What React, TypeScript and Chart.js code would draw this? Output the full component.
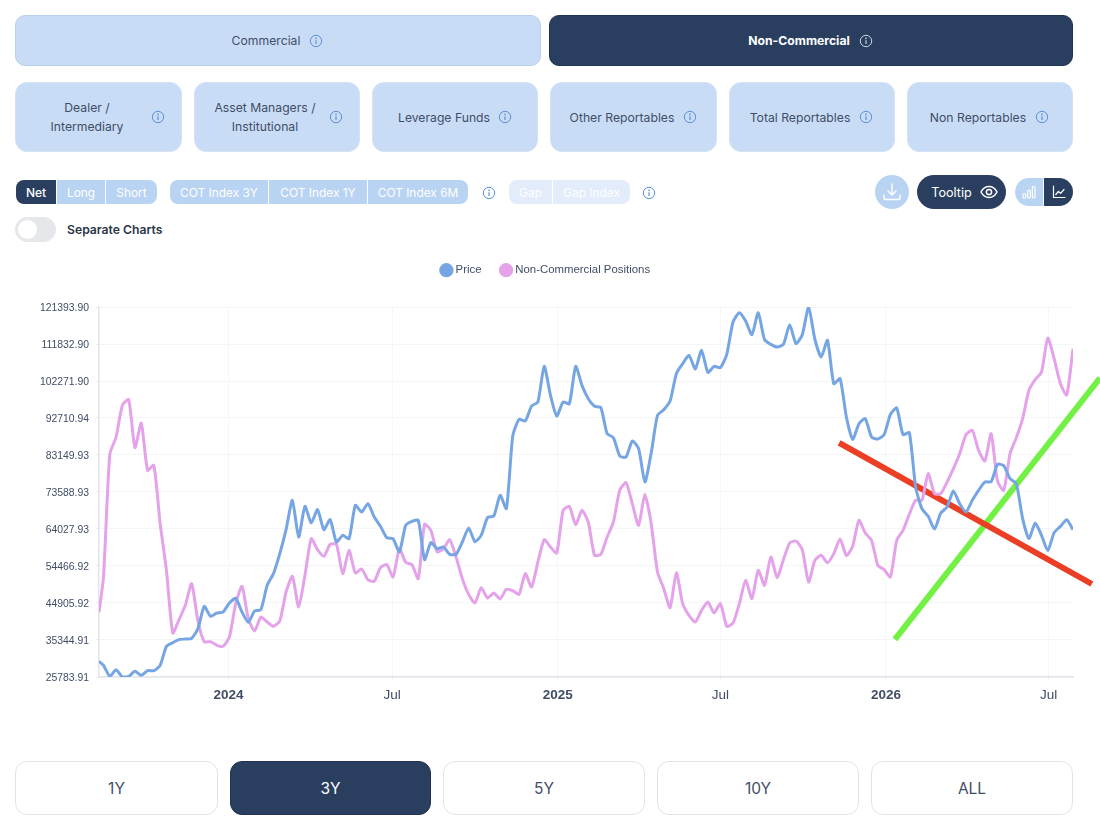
import React, { useEffect, useRef } from "react";
import { Chart, registerables } from "chart.js";

Chart.register(...registerables);

const dates = [
  "2023-08-10","2023-08-15","2023-08-22","2023-08-29","2023-09-05","2023-09-12","2023-09-19","2023-09-26",
  "2023-10-03","2023-10-10","2023-10-17","2023-10-24","2023-10-31","2023-11-07","2023-11-14","2023-11-21","2023-11-28",
  "2023-12-05","2023-12-12","2023-12-19","2023-12-26",
  "2024-01-02","2024-01-09","2024-01-16","2024-01-23","2024-01-30","2024-02-06","2024-02-13","2024-02-20","2024-02-27",
  "2024-03-05","2024-03-12","2024-03-19","2024-03-26","2024-04-02","2024-04-09","2024-04-16","2024-04-23","2024-04-30",
  "2024-05-07","2024-05-14","2024-05-21","2024-05-28","2024-06-04","2024-06-11","2024-06-18","2024-06-25",
  "2024-07-02","2024-07-09","2024-07-16","2024-07-23","2024-07-30","2024-08-06","2024-08-13","2024-08-20","2024-08-27",
  "2024-09-03","2024-09-10","2024-09-17","2024-09-24","2024-10-01","2024-10-08","2024-10-15","2024-10-22","2024-10-29",
  "2024-11-05","2024-11-12","2024-11-19","2024-11-26","2024-12-03","2024-12-10","2024-12-17","2024-12-24","2024-12-31",
  "2025-01-07","2025-01-14","2025-01-21","2025-01-28","2025-02-04","2025-02-11","2025-02-18","2025-02-25",
  "2025-03-04","2025-03-11","2025-03-18","2025-03-25","2025-04-01","2025-04-08","2025-04-15","2025-04-22","2025-04-29",
  "2025-05-06","2025-05-13","2025-05-20","2025-05-27","2025-06-03","2025-06-10","2025-06-17","2025-06-24",
  "2025-07-01","2025-07-08","2025-07-15","2025-07-22","2025-07-29","2025-08-05","2025-08-12","2025-08-19","2025-08-26",
  "2025-09-02","2025-09-09","2025-09-16","2025-09-23","2025-09-30","2025-10-07","2025-10-14","2025-10-21","2025-10-28",
  "2025-11-04","2025-11-11","2025-11-18","2025-11-25","2025-12-02","2025-12-09","2025-12-16","2025-12-23","2025-12-30",
  "2026-01-06","2026-01-13","2026-01-20","2026-01-27","2026-02-03","2026-02-10","2026-02-17","2026-02-24",
  "2026-03-03","2026-03-10","2026-03-17","2026-03-24","2026-03-31","2026-04-07","2026-04-14","2026-04-21","2026-04-28",
  "2026-05-05","2026-05-12","2026-05-19","2026-05-26","2026-06-02","2026-06-09","2026-06-16","2026-06-23","2026-06-30",
  "2026-07-07","2026-07-14","2026-07-21","2026-07-28",
];

const priceValues = [
  29832,28799,25956,27679,25784,25956,27248,26215,27421,27421,28799,33708,34656,35431,35603,35776,38274,44045,41461,42322,
  42580,44906,46112,42580,39910,42839,43183,49471,52486,57654,63856,71436,61961,69885,65578,69024,63856,66440,60669,62391,
  61530,70144,68421,70574,67129,64717,61788,61530,58085,64975,66009,66267,56104,60496,58946,59377,57482,57482,60669,64286,
  60755,62391,66957,67387,72728,69282,87973,92366,91936,95812,96845,106062,98568,93228,96845,96415,106062,101152,97707,95726,
  95381,88663,87629,82892,82633,86768,84786,76173,83667,93400,94864,97104,104167,106751,108904,105373,110196,104511,106062,105717,
  109163,117518,119930,117776,114245,119930,112953,111747,111058,111747,116829,111919,114245,121394,113039,108474,112780,101583,102875,92969,
  87198,91247,92539,87801,87284,88404,93658,95295,88404,88921,74881,69282,67301,64028,68162,69713,73847,70574,68421,71436,
  74020,76173,76259,80738,80394,77034,75742,66698,61530,65578,62391,58429,63080,64717,66440,63856,
];

const positionValues = [
  42494,51625,83322,87801,95984,97448,85045,91419,79188,80480,65406,53347,37154,40599,44303,49902,40255,34914,34914,33967,
  33708,36120,44734,49213,40858,37671,41288,39996,38877,40255,47748,51797,43872,52055,61530,58688,56965,60066,60066,52486,
  58515,52658,53692,50935,50505,54036,54811,51625,58946,55414,54811,51194,65234,63683,58085,58946,61272,56793,51194,47145,
  44906,48868,46198,47490,45940,48438,48093,47145,52486,49040,55501,61272,59377,57826,68852,69885,65148,68852,65837,57223,
  57482,61961,65837,74020,76001,70574,64975,72986,65406,52917,48610,43700,52744,44734,41719,39996,43011,45164,42322,44734,
  38877,39738,44734,50763,46026,53347,49471,56793,51452,56104,60410,60927,58688,50332,55931,57223,55328,57654,61444,57137,
  59549,66267,62994,61099,54639,53519,51625,61099,63683,67818,71436,71436,78326,73158,73158,76173,79618,83494,88404,89524,
  84356,81599,88663,76431,74020,83494,87629,92539,99860,102616,104598,113383,108043,101583,98654,110627,
];

const redLineDates = ["2025-11-10", "2026-08-18"];
const redLineValues = [86300, 49815];
const greenLineDates = ["2026-01-11", "2026-08-27"];
const greenLineValues = [35500, 103046];

const yTicks = [121393.9,111832.9,102271.9,92710.94,83149.93,73588.93,64027.93,54466.92,44905.92,35344.91,25783.91];
const xTickDates = ["2024-01-01","2024-07-01","2025-01-01","2025-07-01","2026-01-01","2026-07-01"];
const xTickLabels = ["2024","Jul","2025","Jul","2026","Jul"];

const dark = "#2a3f5f";
const light = "#c9dcf6";
const pill = "#b9d3f3";
const textCol = "#3f4d66";
const UI = "Inter, 'Noto Sans', sans-serif";
const CHART_FONT = "'Liberation Sans', Arial, sans-serif";

const ms = (d: string) => Date.parse(d + "T00:00:00Z");

function InfoIcon({ x, y, color = "#5f8fd6" }: { x: number; y: number; color?: string }) {
  return (
    <svg width={14} height={14} viewBox="0 0 14 14" style={{ position: "absolute", left: x - 7, top: y - 7 }}>
      <circle cx={7} cy={7} r={5.7} fill="none" stroke={color} strokeWidth={1} />
      <line x1={7} y1={6.2} x2={7} y2={10} stroke={color} strokeWidth={1.2} />
      <circle cx={7} cy={4.4} r={0.8} fill={color} />
    </svg>
  );
}

type BoxProps = {
  x: number; y: number; w: number; h: number; bg: string; color?: string; r?: string | number;
  size?: number; weight?: number; border?: string; children?: React.ReactNode; opacity?: number;
};
function Box({ x, y, w, h, bg, color = textCol, r = 0, size = 12.2, weight = 400, border, children, opacity }: BoxProps) {
  return (
    <div
      style={{
        position: "absolute", left: x, top: y, width: w, height: h, boxSizing: "border-box", background: bg, color,
        borderRadius: r, fontSize: size, fontWeight: weight, border, display: "flex", alignItems: "center",
        justifyContent: "center", textAlign: "center", lineHeight: "19px", opacity, fontFamily: UI,
      }}
    >
      {children}
    </div>
  );
}

function Label({ x, y, text, size = 12.2, weight = 400, color = textCol }: { x: number; y: number; text: string; size?: number; weight?: number; color?: string }) {
  return (
    <div style={{ position: "absolute", left: x, top: y, transform: "translate(-50%,-50%)", fontSize: size, fontWeight: weight, color, fontFamily: UI, textAlign: "center", lineHeight: "19px", whiteSpace: "nowrap" }}>
      {text.split("\n").map((t, i) => <div key={i}>{t}</div>)}
    </div>
  );
}

const topTabs = [
  { x: 15, w: 526, label: "Commercial", tx: 266, ix: 316, on: false },
  { x: 549, w: 524, label: "Non-Commercial", tx: 799, ix: 866, on: true },
];
const subTabs = [
  { x: 15, w: 167, label: "Dealer /\nIntermediary", tx: 87, ix: 158 },
  { x: 194, w: 166, label: "Asset Managers /\nInstitutional", tx: 265, ix: 336 },
  { x: 372, w: 166, label: "Leverage Funds", tx: 444, ix: 505 },
  { x: 550, w: 167, label: "Other Reportables", tx: 622, ix: 690 },
  { x: 729, w: 166, label: "Total Reportables", tx: 800, ix: 866 },
  { x: 907, w: 166, label: "Non Reportables", tx: 978, ix: 1042 },
];
const rangeTabs = [
  { x: 15, w: 203, label: "1Y", on: false },
  { x: 230, w: 201, label: "3Y", on: true },
  { x: 443, w: 202, label: "5Y", on: false },
  { x: 657, w: 202, label: "10Y", on: false },
  { x: 871, w: 202, label: "ALL", on: false },
];

export default function App() {
  const ref = useRef<HTMLCanvasElement>(null);
  useEffect(() => {
    document.body.style.margin = "0";
    const legendPlace: any = {
      id: "legendPlace",
      beforeInit(chart: any) {
        const f = chart.legend.fit;
        chart.legend.fit = function () {
          f.call(chart.legend);
          this.height = 63.5;
        };
      },
      afterLayout(chart: any) {
        chart.legend.left += 10;
        chart.legend.right += 10;
      },
    };
    const chart = new Chart(ref.current!, {
      type: "line",
      plugins: [legendPlace],
      data: {
        datasets: [
          {
            label: "Price",
            data: dates.map((d, i) => ({ x: ms(d), y: priceValues[i] })),
            borderColor: "#76a5e4", backgroundColor: "#76a5e4",
            borderWidth: 3, pointRadius: 0, tension: 0.2,
          },
          {
            label: "Non-Commercial Positions",
            data: dates.map((d, i) => ({ x: ms(d), y: positionValues[i] })),
            borderColor: "#e4a2ea", backgroundColor: "#e4a2ea",
            borderWidth: 3, pointRadius: 0, tension: 0.2,
          },
          {
            label: "red",
            data: redLineDates.map((d, i) => ({ x: ms(d), y: redLineValues[i] })),
            borderColor: "#ea3f24", backgroundColor: "#ea3f24",
            borderWidth: 6, pointRadius: 0, clip: false, borderCapStyle: "butt",
          },
          {
            label: "green",
            data: greenLineDates.map((d, i) => ({ x: ms(d), y: greenLineValues[i] })),
            borderColor: "#73f044", backgroundColor: "#73f044",
            borderWidth: 6, pointRadius: 0, clip: false, borderCapStyle: "butt",
          },
        ] as any,
      },
      options: {
        animation: false,
        responsive: false,
        layout: { padding: { top: 5.5, right: 27, left: 0, bottom: 0 } },
        plugins: {
          tooltip: { enabled: false },
          legend: {
            position: "top",
            labels: {
              usePointStyle: true, pointStyle: "circle", boxHeight: 8, boxWidth: 7, padding: 21,
              color: textCol, font: { size: 11.4, family: CHART_FONT },
              filter: (item: any) => item.datasetIndex < 2,
            },
          },
        },
        scales: {
          x: {
            type: "linear",
            min: ms(dates[0]),
            max: ms(dates[dates.length - 1]),
            afterBuildTicks(s: any) { s.ticks = xTickDates.map((d) => ({ value: ms(d) })); },
            afterFit(s: any) { s.height = 43; },
            grid: { color: "#eef0f3", tickLength: 4 },
            border: { color: "#e1e4ea", width: 1.5, dash: [1, 1] },
            ticks: {
              autoSkip: false, maxRotation: 0, padding: 6.5, color: textCol,
              callback: (v: any) => xTickLabels[xTickDates.findIndex((d) => ms(d) === v)],
              font: (c: any) => {
                const i = xTickDates.findIndex((d) => ms(d) === c.tick?.value);
                return { size: 13.5, family: CHART_FONT, weight: i >= 0 && i % 2 === 0 ? "bold" : "normal" };
              },
            } as any,
          },
          y: {
            type: "linear",
            min: 25783.91,
            max: 121393.9,
            afterBuildTicks(s: any) { s.ticks = yTicks.map((v) => ({ value: v })); },
            afterFit(s: any) { s.width = 99; },
            grid: { color: "#e8eaee", tickLength: 3 },
            border: { color: "#e1e4ea", width: 1.5, dash: [1, 1] },
            ticks: {
              autoSkip: false, padding: 7, labelOffset: 1, color: textCol, font: { size: 10.4, family: CHART_FONT },
              callback: (v: any) => Number(v).toFixed(2),
            },
          },
        },
      },
    });
    return () => chart.destroy();
  }, []);

  return (
    <div style={{ position: "absolute", left: 0, top: 0, width: 1100, height: 838, background: "#fff", overflow: "hidden", fontFamily: UI }}>
      {topTabs.map((t) => (
        <React.Fragment key={t.label}>
          <Box x={t.x} y={15} w={t.w} h={51} r={10} bg={t.on ? dark : light} border={t.on ? "1px solid #1f3352" : "1px solid #b8cfee"} />
          <Label x={t.tx} y={40} text={t.label} color={t.on ? "#fff" : textCol} weight={t.on ? 700 : 400} />
          <InfoIcon x={t.ix} y={41} color={t.on ? "#c9d3e2" : undefined} />
        </React.Fragment>
      ))}
      {subTabs.map((t) => (
        <React.Fragment key={t.label}>
          <Box x={t.x} y={82} w={t.w} h={70} r={12} bg={light} border="1px solid #d5e2f4" />
          <Label x={t.tx} y={116.500} text={t.label} />
          <InfoIcon x={t.ix} y={117} />
        </React.Fragment>
      ))}

      <Box x={16} y={180} w={40} h={24} r="8px 0 0 8px" bg={dark} color="#fff" size={12} weight={500}>Net</Box>
      <Box x={57} y={180} w={48} h={24} bg={pill} color="#fff" size={11.9}>Long</Box>
      <Box x={106} y={180} w={51} h={24} r="0 8px 8px 0" bg={pill} color="#fff" size={11.9}>Short</Box>
      <Box x={170} y={180} w={98} h={24} r="8px 0 0 8px" bg={pill} color="#fff" size={11.9}>COT Index 3Y</Box>
      <Box x={269} y={180} w={98} h={24} bg={pill} color="#fff" size={11.9}>COT Index 1Y</Box>
      <Box x={368} y={180} w={100} h={24} r="0 8px 8px 0" bg={pill} color="#fff" size={11.9}>COT Index 6M</Box>
      <InfoIcon x={489} y={193} />
      <Box x={509} y={180} w={43} h={24} r="8px 0 0 8px" bg="#e2ecfa" color="#fff" size={11.9}>Gap</Box>
      <Box x={553} y={180} w={77} h={24} r="0 8px 8px 0" bg="#e2ecfa" color="#fff" size={11.9}>Gap Index</Box>
      <InfoIcon x={649} y={193} />

      <Box x={15} y={217} w={41} h={25} r={13} bg="#e5e7eb" />
      <div style={{ position: "absolute", left: 18, top: 220, width: 19, height: 19, borderRadius: 10, background: "#fff" }} />
      <div style={{ position: "absolute", left: 67, top: 219.500, fontSize: 12.2, fontWeight: 600, color: "#2b3648", lineHeight: "19px", fontFamily: UI }}>Separate Charts</div>

      <Box x={875} y={175} w={34} h={34} r={17} bg={pill}>
        <svg width={22} height={22} viewBox="0 0 22 22" fill="none" stroke="#fff" strokeWidth={1.4} strokeLinecap="round" strokeLinejoin="round">
          <path d="M11 3v11M7 10l4 4 4-4M3 14v3a1.5 1.5 0 0 0 1.5 1.5h13A1.5 1.5 0 0 0 19 17v-3" />
        </svg>
      </Box>
      <Box x={917} y={175} w={89} h={34} r={17} bg={dark} color="#fff" size={12.6} />
      <Label x={951.5} y={192} text="Tooltip" color="#fff" size={12.6} />
      <svg width={20} height={20} viewBox="0 0 20 20" fill="none" stroke="#fff" strokeWidth={1.5} style={{ position: "absolute", left: 979, top: 182 }}>
        <path d="M2 10c2-3.8 5-5.5 8-5.5s6 1.7 8 5.5c-2 3.8-5 5.5-8 5.5S4 13.800 2 10z" />
        <circle cx={10} cy={10} r={2.6} />
      </svg>
      <Box x={1015} y={178} w={28} h={28} r="14px 0 0 14px" bg={pill}>
        <svg width={16} height={16} viewBox="0 0 16 16" fill="none" stroke="#fff" strokeWidth={1.2}>
          <rect x={2} y={9.5} width={2.6} height={4.5} rx={1} />
          <rect x={6.7} y={6} width={2.6} height={8} rx={1} />
          <rect x={11.4} y={2.5} width={2.6} height={11.500} rx={1} />
        </svg>
      </Box>
      <Box x={1044} y={178} w={29} h={28} r="0 14px 14px 0" bg={dark}>
        <svg width={16} height={16} viewBox="0 0 16 16" fill="none" stroke="#fff" strokeWidth={1.2} strokeLinecap="round" strokeLinejoin="round">
          <path d="M2.500 2v11.500h11.500M4.800 10.500l2.600-3 2.200 1.800 3.400-3.800" />
        </svg>
      </Box>

      <canvas ref={ref} width={1100} height={482} style={{ position: "absolute", left: 0, top: 238, width: 1100, height: 482, display: "block" }} />

      {rangeTabs.map((t) => (
        <Box key={t.label} x={t.x} y={761} w={t.w} h={54} r={12} bg={t.on ? dark : "#fff"} color={t.on ? "#fff" : textCol} size={15.5} border={t.on ? "1px solid #1f3352" : "1px solid #dfe3e9"}>
          {t.label}
        </Box>
      ))}
    </div>
  );
}
